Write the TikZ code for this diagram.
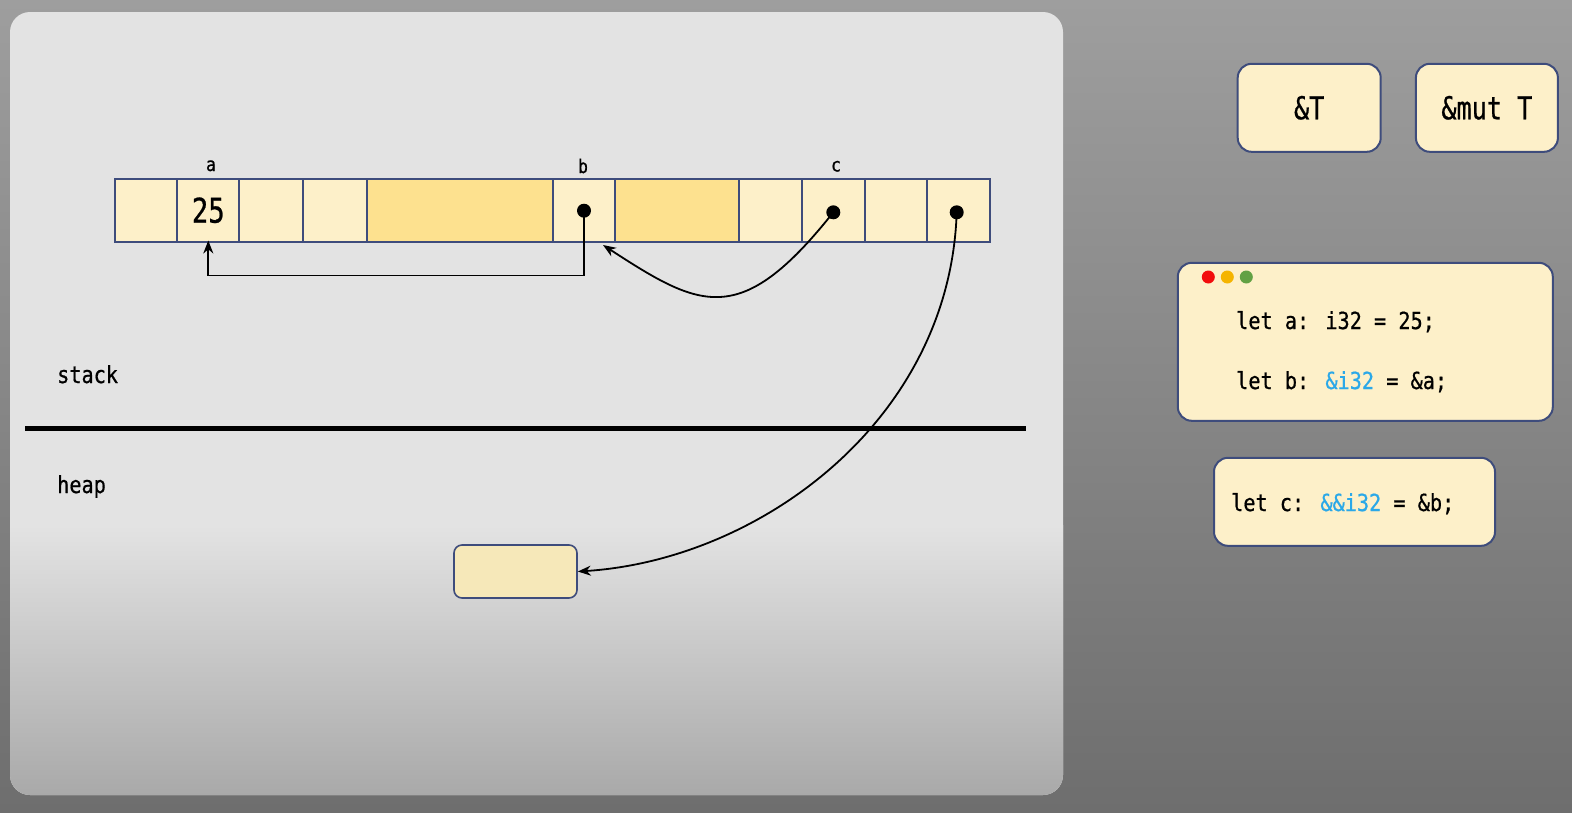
\documentclass[tikz,border=0pt]{standalone}
\usepackage{fontspec}
\newfontfamily\mono[FakeStretch=0.86,FakeBold=0.7]{DejaVu Sans Mono}
\newfontfamily\monoc[FakeStretch=0.8,FakeBold=0.7]{DejaVu Sans Mono}
\usetikzlibrary{arrows.meta}
\definecolor{outTop}{HTML}{9E9E9E}
\definecolor{outBot}{HTML}{6E6E6E}
\definecolor{panelTop}{HTML}{E3E3E3}
\definecolor{panelBot}{HTML}{A9A9A9}
\definecolor{cellL}{HTML}{FDF0C9}
\definecolor{cellD}{HTML}{FDE18F}
\definecolor{cellB}{HTML}{3E4C7C}
\definecolor{heapF}{HTML}{F6E8B9}
\definecolor{kw}{HTML}{2AA8E8}
\definecolor{dRed}{HTML}{F20D0D}
\definecolor{dOrange}{HTML}{F5B400}
\definecolor{dGreen}{HTML}{62A144}
\tikzset{
  cell/.style={draw=cellB, line width=2pt, fill=cellL, inner sep=0pt, minimum height=62.5pt},
  wide/.style={cell, fill=cellD},
  dot/.style={circle, fill=black, inner sep=0pt, minimum size=14pt},
  ptr/.style={draw=black, line width=1.8pt, -{Stealth[length=13pt,width=10pt]}},
  lbl/.style={font=\mono\fontsize{19}{19}\selectfont, inner sep=0pt},
  rbox/.style={draw=cellB, line width=2pt, fill=cellL, rounded corners=14pt, inner sep=0pt},
  code/.style={font=\mono\fontsize{23.5}{23.5}\selectfont, inner sep=0pt, anchor=base west},
  wdot/.style={circle, inner sep=0pt, minimum size=13pt}
}
\begin{document}
\begin{tikzpicture}[x=1pt,y=-1pt]
\useasboundingbox (0,0) rectangle (1572,812);
\shade[top color=outTop, bottom color=outBot] (0,0) rectangle (1572,812);
% panel
\fill[panelTop, rounded corners=20pt] (10,12) rectangle (1063,795);
\begin{scope}
\clip[rounded corners=20pt] (10,12) rectangle (1063,795);
\shade[top color=panelTop, bottom color=panelBot] (10,525) rectangle (1063,795);
\end{scope}
% cells
\node[cell, minimum width=62.3pt] (c1) at (146.15,210.25) {};
\node[cell, minimum width=62pt] (c2) at (208.3,210.25) {};
\node[cell, minimum width=64pt] (c3) at (271.3,210.25) {};
\node[cell, minimum width=63.4pt] (c4) at (335,210.25) {};
\node[wide, minimum width=186pt] (c5) at (459.7,210.25) {};
\node[cell, minimum width=62.3pt] (c6) at (583.85,210.25) {};
\node[wide, minimum width=124.3pt] (c7) at (677.15,210.25) {};
\node[cell, minimum width=63pt] (c8) at (770.8,210.25) {};
\node[cell, minimum width=62.7pt] (c9) at (833.65,210.25) {};
\node[cell, minimum width=62.3pt] (c10) at (896.15,210.25) {};
\node[cell, minimum width=62.7pt] (c11) at (958.65,210.25) {};
\node[font=\monoc\fontsize{34}{34}\selectfont, inner sep=0pt] (v25) at (c2) {25};
% labels
\node[lbl, anchor=base] (la) at (211,171) {a};
\node[lbl, anchor=base] (lb) at (583,173) {b};
\node[lbl, anchor=base] (lc) at (836,171.5) {c};
% dots
\node[dot] (db) at (584,210.7) {};
\node[dot] (dc) at (833.3,212.3) {};
\node[dot] (dl) at (956.7,212.3) {};
% heap box
\node[draw=cellB, line width=1.6pt, fill=heapF, rounded corners=8pt, minimum width=123pt, minimum height=53pt, inner sep=0pt] (hp) at (515.5,571.5) {};
% divider
\draw[line width=5pt] (25,428) -- (1026,428);
\node[font=\mono\fontsize{23.5}{23.5}\selectfont, anchor=base west, inner sep=0pt] (stk) at (57,383) {stack};
\node[font=\mono\fontsize{23.5}{23.5}\selectfont, anchor=base west, inner sep=0pt] (hep) at (57,493) {heap};
% arrows
\draw[ptr, shorten >=-2pt] (db.center) |- ([yshift=-33pt]c2.south) -- (c2.south);
\coordinate (bt) at ([xshift=-13pt,yshift=-2.5pt]c6.south east);
\draw[ptr] (dc.center) .. controls (740,330) and (700,308) .. (bt);
\draw[ptr] (dl.center) .. controls (950,420) and (760,560) .. (hp.east);
% right side
\node[rbox, minimum width=143pt, minimum height=88pt, font=\monoc\fontsize{31.5}{31.5}\selectfont] (rT) at (1309.2,107.8) {\&T};
\node[rbox, minimum width=142pt, minimum height=88pt, font=\monoc\fontsize{31.5}{31.5}\selectfont] (rM) at (1486.9,107.8) {\&mut T};
\node[rbox, minimum width=375pt, minimum height=158pt] (code1) at (1365.3,341.8) {};
\node[wdot, fill=dRed] (w1) at (1208.3,277) {};
\node[wdot, fill=dOrange] (w2) at (1227.3,277) {};
\node[wdot, fill=dGreen] (w3) at (1246.3,277) {};
\node[code] (l1) at (1236,329) {let a: i32 = 25;};
\node[code] (l2) at (1236,389) {let b: \textcolor{kw}{\&i32} = \&a;};
\node[rbox, minimum width=281pt, minimum height=88pt] (code2) at (1354.5,501.8) {};
\node[code] (l3) at (1231,511) {let c: \textcolor{kw}{\&\&i32} = \&b;};
\end{tikzpicture}
\end{document}
